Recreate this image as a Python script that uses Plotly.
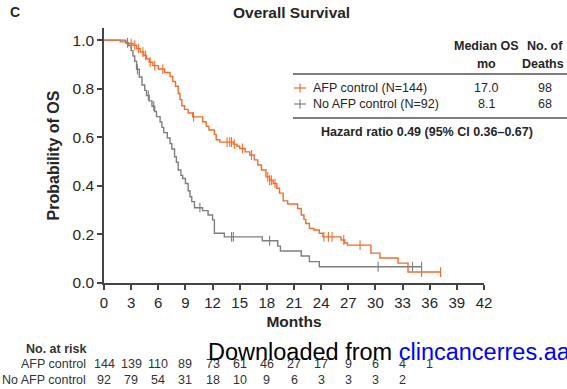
import numpy as np
import plotly.graph_objects as go

# ---------------- data ----------------
afp_t = [0, 1.8, 2.5, 3.2, 3.6, 4.0, 4.4, 4.7, 5.0, 5.4, 6.0, 6.7, 7.3, 7.6, 7.9, 8.2, 8.4, 8.6,
         8.9, 9.3, 9.8, 10.9, 11.3, 11.6, 12.2, 12.4, 12.8, 14.3, 14.7, 15.0, 15.6, 16.1, 16.6,
         17.0, 17.4, 17.9, 18.3, 18.7, 19.1, 19.4, 19.8, 20.3, 21.4, 21.8, 22.1, 22.3, 22.7,
         23.2, 23.8, 24.2, 26.2, 26.6, 26.9, 29.5, 30.5, 32.5, 33.6, 37.2]
afp_s = [1.0, 0.993, 0.986, 0.979, 0.965, 0.951, 0.937, 0.923, 0.909, 0.895, 0.881, 0.867, 0.850,
         0.830, 0.810, 0.780, 0.755, 0.730, 0.715, 0.700, 0.684, 0.664, 0.645, 0.630, 0.612, 0.590,
         0.580, 0.572, 0.563, 0.554, 0.540, 0.527, 0.507, 0.486, 0.465, 0.437, 0.423, 0.410, 0.390,
         0.370, 0.338, 0.325, 0.307, 0.280, 0.262, 0.245, 0.225, 0.218, 0.205, 0.190, 0.177, 0.165,
         0.156, 0.123, 0.103, 0.082, 0.045, 0.045]
afp_cens = [3.0, 3.4, 3.8, 4.3, 4.6, 5.1, 5.6, 6.5, 9.9, 13.6, 13.9, 14.1, 14.4, 15.3, 16.3,
            18.1, 18.3, 18.5, 18.9, 24.3, 24.8, 25.2, 26.5, 28.3, 35.1, 37.2]

noafp_t = [0, 2.4, 2.7, 3.0, 3.2, 3.4, 3.6, 3.9, 4.2, 4.5, 4.7, 5.0, 5.3, 5.6, 5.8, 6.2, 6.4, 6.6,
           7.0, 7.3, 7.5, 7.8, 8.0, 8.2, 8.5, 8.7, 9.0, 9.3, 9.5, 9.7, 10.0, 10.9, 11.5, 12.0,
           12.2, 13.3, 17.5, 19.2, 19.5, 21.8, 22.7, 23.8, 35.1]
noafp_s = [1.0, 0.989, 0.978, 0.957, 0.935, 0.913, 0.880, 0.848, 0.815, 0.793, 0.772, 0.750,
           0.728, 0.706, 0.685, 0.663, 0.641, 0.619, 0.597, 0.574, 0.552, 0.520, 0.497, 0.465,
           0.443, 0.430, 0.410, 0.380, 0.355, 0.335, 0.310, 0.298, 0.280, 0.260, 0.205, 0.190,
           0.174, 0.152, 0.132, 0.111, 0.088, 0.067, 0.067]
noafp_cens = [2.6, 3.7, 4.9, 5.5, 10.6, 14.1, 14.3, 18.3, 30.3, 34.1, 35.1]

risk_months = [0, 3, 6, 9, 12, 15, 18, 21, 24, 27, 30, 33, 36]
risk_afp = [144, 139, 110, 89, 73, 61, 46, 27, 17, 9, 6, 4, 1]
risk_noafp = [92, 79, 54, 31, 18, 10, 9, 6, 3, 3, 3, 2]

series_names = ["AFP control (N=144)", "No AFP control (N=92)"]
median_os = ["17.0", "8.1"]
n_deaths = ["98", "68"]

ORANGE = "#f26d2d"
GREY = "#7f7f7f"
TXT = "#262626"
FONT = "Liberation Sans, Arial, sans-serif"


def step_lookup(times, surv, q):
    idx = np.searchsorted(np.array(times), np.array(q), side="right") - 1
    return list(np.array(surv)[idx])


fig = go.Figure()
for t, s, c, col, name in [(noafp_t, noafp_s, noafp_cens, GREY, series_names[1]),
                           (afp_t, afp_s, afp_cens, ORANGE, series_names[0])]:
    fig.add_trace(go.Scatter(x=t, y=s, mode="lines", line=dict(color=col, width=1.4, shape="hv"),
                             showlegend=False, name=name))
    fig.add_trace(go.Scatter(x=c, y=step_lookup(t, s, c), mode="markers",
                             marker=dict(symbol="line-ns", size=7, line=dict(color=col, width=1.1)),
                             showlegend=False, hoverinfo="skip"))

# plot pixel geometry
L, R, T, B = 104, 83, 28, 106
W, H = 567, 389
PW, PH = W - L - R, H - T - B


def px(xp):
    return (xp - L) / PW


def py(yp):
    return (H - B - yp) / PH


ann = []
# panel letter and title
ann.append(dict(text="<b>C</b>", x=px(8), y=py(12), xref="paper", yref="paper", showarrow=False,
                xanchor="left", yanchor="middle", font=dict(size=14, color=TXT)))
ann.append(dict(text="<b>Overall Survival</b>", x=px(291), y=py(12), xref="paper", yref="paper",
                showarrow=False, xanchor="center", yanchor="middle", font=dict(size=15.5, color=TXT)))

# legend table
tf = dict(size=12.5, color=TXT, family=FONT)
ann.append(dict(text="<b>Median OS</b>", x=px(486), y=py(46), xref="paper", yref="paper",
                showarrow=False, xanchor="center", yanchor="middle", font=tf))
ann.append(dict(text="<b>mo</b>", x=px(486), y=py(64), xref="paper", yref="paper",
                showarrow=False, xanchor="center", yanchor="middle", font=tf))
ann.append(dict(text="<b>No. of</b>", x=px(565), y=py(46), xref="paper", yref="paper",
                showarrow=False, xanchor="right", yanchor="middle", font=tf))
ann.append(dict(text="<b>Deaths</b>", x=px(566), y=py(64), xref="paper", yref="paper",
                showarrow=False, xanchor="right", yanchor="middle", font=tf))
for i, (nm, med, nd, col) in enumerate(zip(series_names, median_os, n_deaths, [ORANGE, GREY])):
    yy = [88, 104][i]
    ann.append(dict(text=nm, x=px(311), y=py(yy), xref="paper", yref="paper", showarrow=False,
                    xanchor="left", yanchor="middle", font=tf))
    ann.append(dict(text=med, x=px(486), y=py(yy), xref="paper", yref="paper", showarrow=False,
                    xanchor="center", yanchor="middle", font=tf))
    ann.append(dict(text=nd, x=px(545), y=py(yy), xref="paper", yref="paper", showarrow=False,
                    xanchor="center", yanchor="middle", font=tf))
ann.append(dict(text="<b>Hazard ratio 0.49 (95% CI 0.36–0.67)</b>", x=px(427), y=py(132),
                xref="paper", yref="paper", showarrow=False, xanchor="center", yanchor="middle",
                font=tf))

# number at risk
rf = dict(size=12.5, color="#333333", family=FONT)
ann.append(dict(text="<b>No. at risk</b>", x=px(88), y=py(349), xref="paper", yref="paper",
                showarrow=False, xanchor="right", yanchor="middle", font=rf))
for lbl, vals, yy in [("AFP control", risk_afp, 364), ("No AFP control", risk_noafp, 380)]:
    ann.append(dict(text=lbl, x=px(88), y=py(yy), xref="paper", yref="paper", showarrow=False,
                    xanchor="right", yanchor="middle", font=rf))
    for m, v in zip(risk_months, vals):
        ann.append(dict(text=str(v), x=m, y=py(yy), xref="x", yref="paper", showarrow=False,
                        xanchor="center", yanchor="middle", font=rf))

# watermark
ann.append(dict(text="Downloaded from <span style='color:#0000ff'>clincancerres.aacrjournals.org</span>",
                x=px(206), y=py(352), xref="paper", yref="paper", showarrow=False,
                xanchor="left", yanchor="middle", font=dict(size=23.5, color="#000000", family=FONT)))

shapes = []
for yy in [74, 118]:
    shapes.append(dict(type="line", xref="paper", yref="paper", x0=px(293), x1=px(567),
                       y0=py(yy), y1=py(yy), line=dict(color="#555555", width=1.3)))
for yy, col in [(88, ORANGE), (104, GREY)]:
    shapes.append(dict(type="line", xref="paper", yref="paper", x0=px(294), x1=px(306),
                       y0=py(yy), y1=py(yy), line=dict(color=col, width=1.2)))
    shapes.append(dict(type="line", xref="paper", yref="paper", x0=px(300), x1=px(300),
                       y0=py(yy - 4.5), y1=py(yy + 4.5), line=dict(color=col, width=1.2)))

fig.update_layout(
    width=W, height=H, margin=dict(l=L, r=R, t=T, b=B),
    paper_bgcolor="white", plot_bgcolor="white",
    font=dict(family=FONT, color=TXT),
    annotations=ann, shapes=shapes,
    xaxis=dict(range=[0, 42], tickvals=list(range(0, 43, 3)), showgrid=False, zeroline=False,
               showline=True, linecolor="#444444", linewidth=1.5, ticks="outside", ticklen=5,
               tickwidth=1.5, tickcolor="#444444", tickfont=dict(size=15, color=TXT),
               title=dict(text="<b>Months</b>", font=dict(size=15.5, color=TXT), standoff=6)),
    yaxis=dict(range=[0, 1.05], tickvals=[0, 0.2, 0.4, 0.6, 0.8, 1.0],
               ticktext=["0.0", "0.2", "0.4", "0.6", "0.8", "1.0"], showgrid=False, zeroline=False,
               showline=True, linecolor="#444444", linewidth=1.5, ticks="outside", ticklen=5,
               tickwidth=1.5, tickcolor="#444444", tickfont=dict(size=15.5, color=TXT),
               title=dict(text="<b>Probability of OS</b>", font=dict(size=16, color=TXT), standoff=9)),
)

fig.write_html("out.html")
